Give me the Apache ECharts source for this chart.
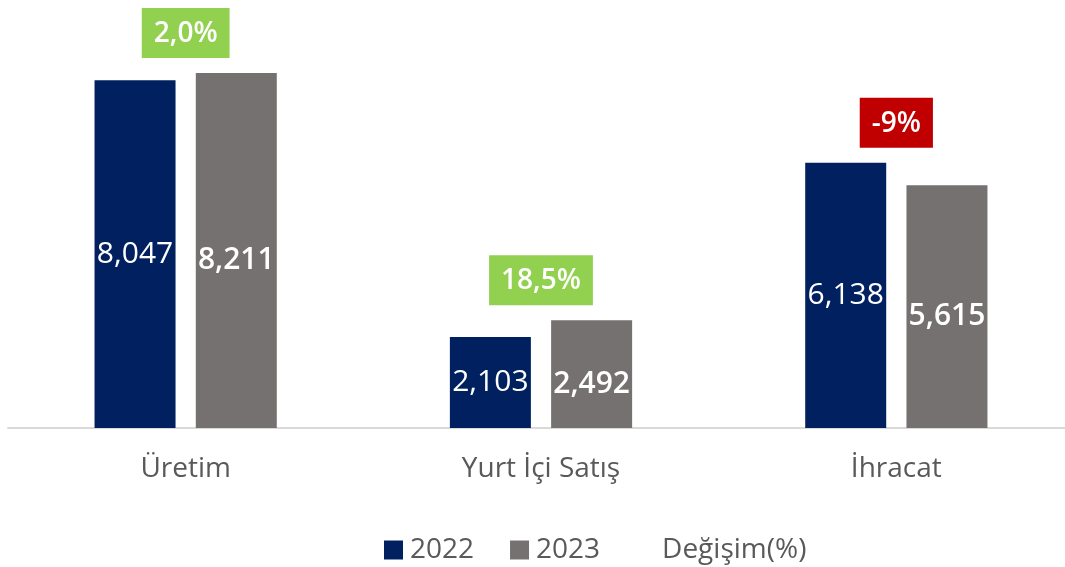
<!DOCTYPE html>
<html><head><meta charset="utf-8">
<script src="https://cdn.jsdelivr.net/npm/echarts@6/dist/echarts.min.js"></script>
<style>html,body{margin:0;padding:0;background:#fff}#c{width:1065px;height:567px}</style>
</head><body><div id="c"></div>
<script>
const categories = ['Üretim', 'Yurt İçi Satış', 'İhracat'];
const values2022 = [8047, 2103, 6138];
const values2023 = [8211, 2492, 5615];
const changeLabels = ['2,0%', '18,5%', '-9%'];
const changeColors = ['#92D050', '#92D050', '#C00000'];

const FONT = 'Open Sans';
const chart = echarts.init(document.getElementById('c'));
const fmt = v => v.toLocaleString('en-US');
chart.setOption({
  animation: false,
  textStyle: { fontFamily: FONT },
  grid: { left: 8, width: 1066, top: 39, bottom: 139, containLabel: false, outerBoundsMode: 'none' },
  legend: {
    top: 531,
    left: 379,
    itemWidth: 19, itemHeight: 19, itemGap: 36,
    textStyle: { fontFamily: FONT, fontSize: 28, color: '#595959', padding: [0, 0, 0, 2] },
    data: [
      { name: '2022', icon: 'rect' },
      { name: '2023', icon: 'rect' },
      { name: 'Değişim(%)', icon: 'none' }
    ]
  },
  xAxis: {
    type: 'category',
    data: categories,
    axisLine: { lineStyle: { color: '#D9D9D9', width: 2 } },
    axisTick: { show: false },
    axisLabel: { fontFamily: FONT, fontSize: 28, color: '#595959', margin: 27 }
  },
  yAxis: { type: 'value', min: 0, max: 9000, show: false, splitLine: { show: false } },
  series: [
    {
      name: '2022', type: 'bar', data: values2022, barWidth: 81, barGap: '25%',
      itemStyle: { color: '#002060' },
      label: { show: true, position: 'inside', color: '#fff', fontFamily: FONT, fontSize: 30,
        formatter: p => fmt(p.value) }
    },
    {
      name: '2023', type: 'bar', data: values2023, barWidth: 81,
      itemStyle: { color: '#767171' },
      label: { show: true, position: 'inside', offset: [0, 10], color: '#fff', fontFamily: FONT, fontSize: 30, fontWeight: 600,
        formatter: p => fmt(p.value) }
    },
    {
      name: 'Değişim(%)', type: 'scatter', symbolSize: 0,
      itemStyle: { color: 'transparent', opacity: 1 },
      emphasis: { disabled: true },
      data: categories.map((c, i) => ({
        value: Math.max(values2022[i], values2023[i]),
        label: { backgroundColor: changeColors[i] }
      })),
      label: {
        show: true, position: 'top', distance: 15,
        color: '#fff', fontFamily: FONT, fontSize: 28, fontWeight: 600,
        padding: [12, 12, 10, 12],
        formatter: p => changeLabels[p.dataIndex]
      }
    }
  ]
});
</script></body></html>
